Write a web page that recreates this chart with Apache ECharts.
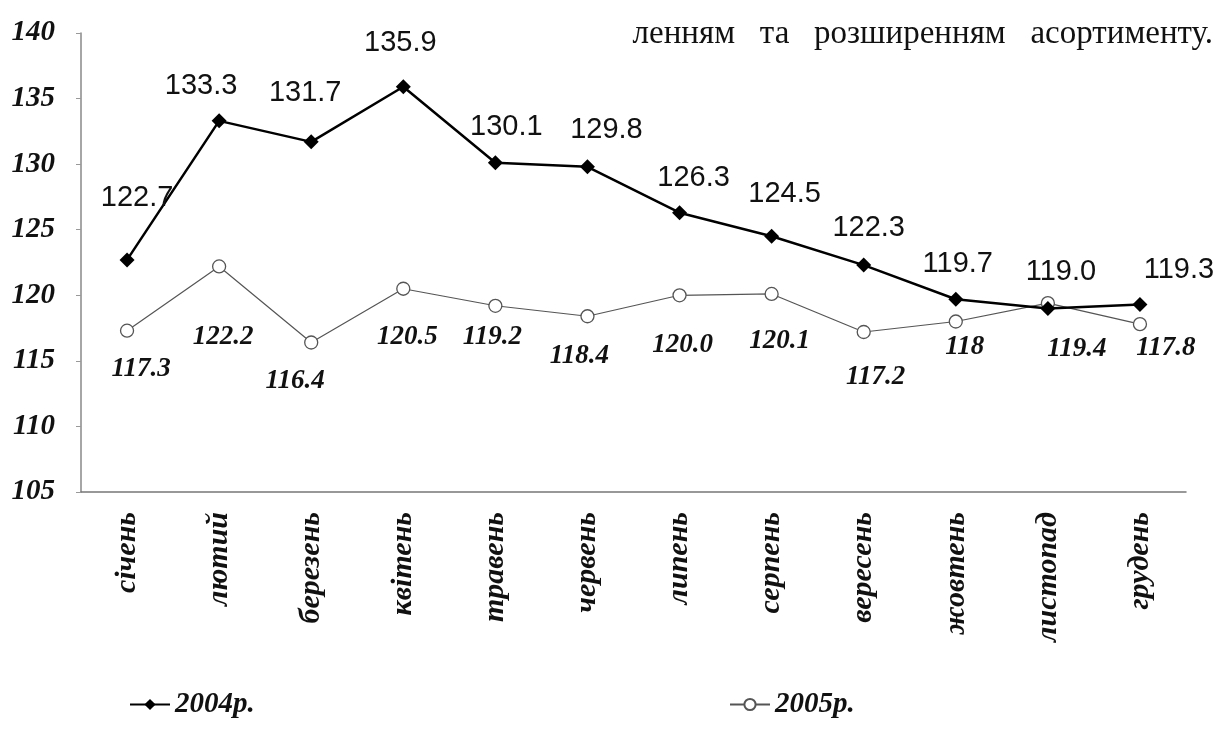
<!DOCTYPE html>
<html>
<head>
<meta charset="utf-8">
<script src="https://cdn.jsdelivr.net/npm/echarts@6/dist/echarts.min.js"></script>
<style>
html,body{margin:0;padding:0;background:#fff;}
#chart{width:1222px;height:730px;}
</style>
</head>
<body>
<div id="chart"></div>
<script>
// ---- data ----
const months = ['січень','лютий','березень','квітень','травень','червень','липень','серпень','вересень','жовтень','листопад','грудень'];
const values2004 = [122.7, 133.3, 131.7, 135.9, 130.1, 129.8, 126.3, 124.5, 122.3, 119.7, 119.0, 119.3];
const values2005 = [117.3, 122.2, 116.4, 120.5, 119.2, 118.4, 120.0, 120.1, 117.2, 118, 119.4, 117.8];
const labels2005 = ['117.3','122.2','116.4','120.5','119.2','118.4','120.0','120.1','117.2','118','119.4','117.8'];
const yTicks = [105, 110, 115, 120, 125, 130, 135, 140];
const seriesNames = ['2004р.', '2005р.'];
const noteText = 'ленням   та   розширенням   асортименту.';

// label placement (style, kept separate from data)
const off2004 = [[10,-62],[-18,-35],[-6,-49],[-3,-44],[11,-36],[19,-37],[14,-35],[13,-42],[5,-37],[2,-35],[13,-36],[39,-34]];
const off2005 = [[14,38],[4,71],[-16,39],[4,48],[-3,31],[-8,40],[3,50],[8,47],[12,45],[9,26],[29,46],[26,24]];

const serifBI = {fontFamily:'Liberation Serif', fontStyle:'italic', fontWeight:'bold', color:'#111'};

const chart = echarts.init(document.getElementById('chart'), null, {renderer:'canvas'});
chart.setOption({
  animation:false,
  backgroundColor:'#fff',
  title:{
    text: noteText, right: 4, top: 13,
    textStyle:{fontFamily:'Liberation Serif', fontWeight:'normal', fontSize:33, color:'#111'}
  },
  grid:{left:81, right:36, top:33, bottom:730-492, containLabel:false},
  legend:[
    {data:[seriesNames[0]], left:124, top:685, itemWidth:40, itemHeight:14,
     textStyle:Object.assign({fontSize:29}, serifBI)},
    {data:[seriesNames[1]], left:724, top:685, itemWidth:40, itemHeight:14,
     textStyle:Object.assign({fontSize:29}, serifBI)}
  ],
  xAxis:{
    type:'category', data:months, boundaryGap:true,
    axisLine:{lineStyle:{color:'#777', width:1.5}},
    axisTick:{show:false},
    axisLabel:Object.assign({rotate:90, margin:20, fontSize:30, interval:0}, serifBI)
  },
  yAxis:{
    type:'value', min:yTicks[0], max:yTicks[yTicks.length-1], interval:5,
    splitLine:{show:false},
    axisLine:{show:true, lineStyle:{color:'#888', width:1.5}},
    axisTick:{show:true, length:5, lineStyle:{color:'#999'}},
    axisLabel:Object.assign({margin:26, fontSize:29}, serifBI)
  },
  series:[
    {
      name:seriesNames[1], type:'line', z:2,
      data: values2005.map((v,i)=>({value:v, label:{offset:off2005[i], formatter:labels2005[i]}})),
      symbol:'circle', symbolSize:13,
      itemStyle:{color:'#fff', borderColor:'#555', borderWidth:1.3},
      lineStyle:{color:'#555', width:1.2},
      label:Object.assign({show:true, position:'inside', fontSize:27}, serifBI)
    },
    {
      name:seriesNames[0], type:'line', z:3,
      data: values2004.map((v,i)=>({value:v, label:{offset:off2004[i]}})),
      symbol:'diamond', symbolSize:15,
      itemStyle:{color:'#000'},
      lineStyle:{color:'#000', width:2.5},
      label:{show:true, position:'inside', fontFamily:'Liberation Sans', fontSize:29, color:'#111',
             formatter:p=>p.value.toFixed(1)}
    }
  ]
});
</script>
</body>
</html>
